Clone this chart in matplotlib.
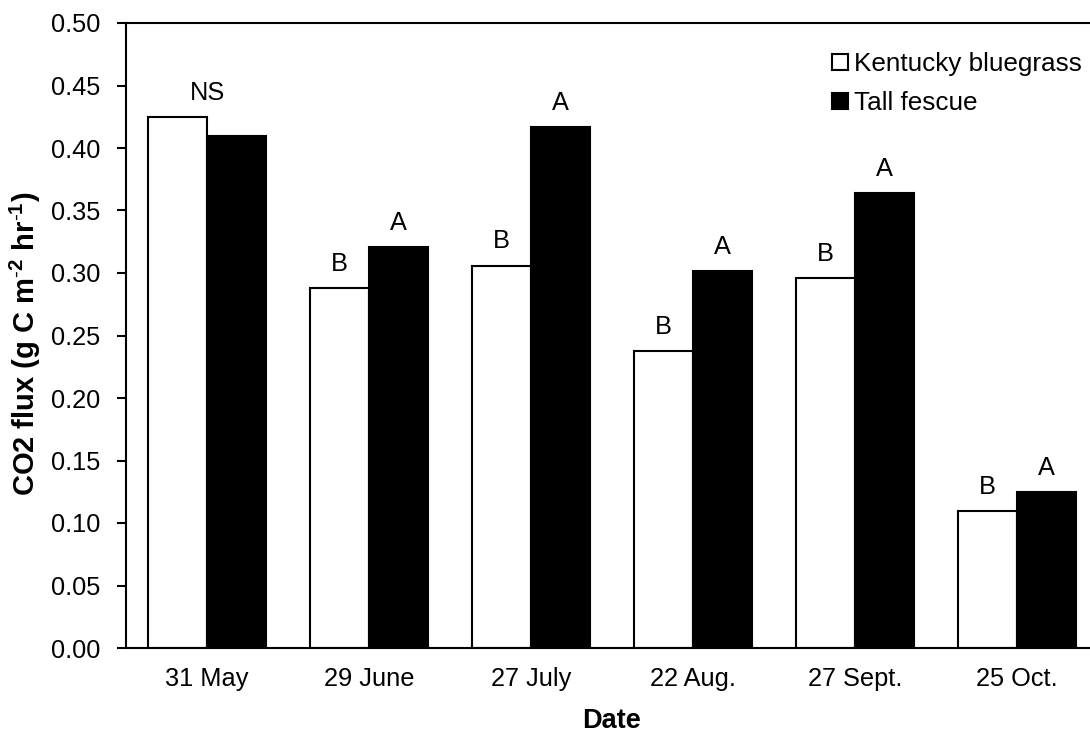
import numpy as np
import matplotlib
matplotlib.use("Agg")
import matplotlib.pyplot as plt
from matplotlib.patches import Patch

plt.rcParams["font.family"] = ["Liberation Sans", "DejaVu Sans"]
plt.rcParams["mathtext.fontset"] = "custom"
plt.rcParams["mathtext.rm"] = "Liberation Sans"
plt.rcParams["mathtext.bf"] = "Liberation Sans:bold"

dates = ["31 May", "29 June", "27 July", "22 Aug.", "27 Sept.", "25 Oct."]
kentucky = [0.425, 0.288, 0.306, 0.238, 0.296, 0.110]
fescue = [0.410, 0.321, 0.417, 0.302, 0.364, 0.125]
kb_letters = ["", "B", "B", "B", "B", "B"]
tf_letters = ["", "A", "A", "A", "A", "A"]
group_letters = ["NS", "", "", "", "", ""]

FS = 18.3
fig = plt.figure(figsize=(10.9, 7.34), dpi=100)
ax = fig.add_axes([126/1090, 86/734, 972/1090, 625/734])

x = np.arange(len(dates))
w = 0.365
ax.bar(x - w/2, kentucky, w, color="white", edgecolor="black", linewidth=1.5,
       label="Kentucky bluegrass")
ax.bar(x + w/2, fescue, w, color="black", edgecolor="black", linewidth=1.5,
       label="Tall fescue")

# significance letters
for i in range(len(dates)):
    if kb_letters[i]:
        ax.annotate(kb_letters[i], (x[i] - w/2, kentucky[i]), xytext=(0, 17),
                    textcoords="offset pixels", ha="center", va="baseline", fontsize=FS)
    if tf_letters[i]:
        ax.annotate(tf_letters[i], (x[i] + w/2, fescue[i]), xytext=(0, 17),
                    textcoords="offset pixels", ha="center", va="baseline", fontsize=FS)
    if group_letters[i]:
        top = max(kentucky[i], fescue[i])
        ax.annotate(group_letters[i], (x[i], top), xytext=(0, 17),
                    textcoords="offset pixels", ha="center", va="baseline", fontsize=FS)

ax.set_xlim(-0.5, len(dates) - 0.5)
ax.set_ylim(0, 0.50)
yt = np.arange(0, 0.501, 0.05)
ax.set_yticks(yt)
ax.set_yticklabels([f"{v:.2f}" for v in yt])
ax.set_xticks(x)
ax.set_xticklabels(dates)
ax.tick_params(axis="y", length=6.5, width=1.5, pad=12, labelsize=FS)
ax.tick_params(axis="x", length=0, pad=14, labelsize=FS)
for s in ax.spines.values():
    s.set_linewidth(1.5)
ax.spines["right"].set_visible(False)

ax.set_xlabel("Date", fontsize=19.5, fontweight="bold", labelpad=12)
ax.set_ylabel(r"CO2 flux (g C m$^{\mathbf{\text{-}2}}$ hr$^{\mathbf{\text{-}1}}$)",
              fontsize=21, fontweight="bold")
ax.yaxis.set_label_coords(-0.085, 0.486)

handles = [Patch(facecolor="white", edgecolor="black", linewidth=1.5),
           Patch(facecolor="black", edgecolor="black", linewidth=1.5)]
fig.legend(handles, ["Kentucky bluegrass", "Tall fescue"], loc="upper left",
           bbox_to_anchor=(832/1090, 1 - 52/734), bbox_transform=fig.transFigure,
           frameon=False, fontsize=18.8, handlelength=0.6, handleheight=0.6,
           handletextpad=0.25, labelspacing=0.58, borderpad=0, borderaxespad=0)

fig.savefig("out.png", dpi=100)
